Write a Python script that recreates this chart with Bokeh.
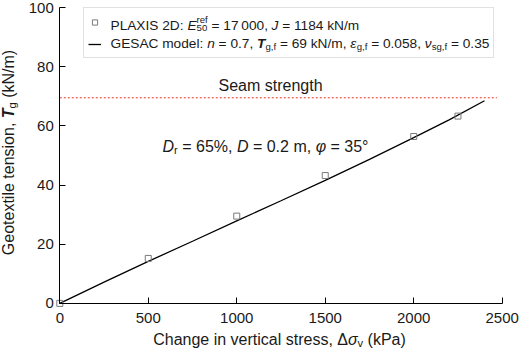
import math
from bokeh.plotting import figure
from bokeh.models import Range1d, Label, Legend, LegendItem, FixedTicker
from bokeh.embed import file_html
from bokeh.resources import INLINE

# PLAXIS 2D results
plaxis_stress = [0, 500, 1000, 1500, 2000, 2250]
plaxis_tension = [0, 15.2, 29.5, 43.2, 56.4, 63.3]

# GESAC model curve
gesac_stress = [0, 250, 500, 750, 1000, 1250, 1500, 1750, 2000, 2200, 2400]
gesac_tension = [0, 7.2, 14.2, 21.0, 27.9, 34.7, 41.6, 48.7, 56.0, 62.0, 68.5]

# Seam strength level
seam_stress = [0, 2470]
seam_tension = [69.5, 69.5]

x_ticks = [0, 500, 1000, 1500, 2000, 2500]
y_ticks = [0, 20, 40, 60, 80, 100]

FONT = "Liberation Sans"
INK = "#1a1a1a"

W, H = 520, 359
# plot area in canvas pixels: axes cross at (AX_LEFT, AX_BOTTOM)
AX_LEFT, AX_RIGHT, AX_TOP, AX_BOTTOM = 59.3, 501.7, 7.0, 302.9
X_MAX, Y_MAX = 2500, 100

kx = (AX_RIGHT - AX_LEFT) / X_MAX
ky = (AX_BOTTOM - AX_TOP) / Y_MAX
x_range = Range1d(-AX_LEFT / kx, X_MAX + (W - AX_RIGHT) / kx)
y_range = Range1d(-(H - AX_BOTTOM) / ky, Y_MAX + AX_TOP / ky)

# the frame fills the canvas; axes are pinned at the data origin
p = figure(width=W, height=H, output_backend="svg", toolbar_location=None,
           x_range=x_range, y_range=y_range, min_border=0)
p.outline_line_color = None
p.grid.visible = False
p.background_fill_color = "white"
p.border_fill_color = "white"

for ax, ticks, bounds in ((p.xaxis[0], x_ticks, (0, X_MAX)),
                          (p.yaxis[0], y_ticks, (0, Y_MAX))):
    ax.fixed_location = 0
    ax.bounds = bounds
    ax.ticker = FixedTicker(ticks=ticks)
    ax.minor_tick_line_color = None
    ax.major_tick_in = 6
    ax.major_tick_out = 0
    ax.axis_line_color = "black"
    ax.major_tick_line_color = "black"
    ax.major_label_text_font = FONT
    ax.major_label_text_font_size = "15px"
    ax.major_label_text_color = INK
p.xaxis.major_label_standoff = 10
p.yaxis.major_label_standoff = 6

WID = {' ': 278, '\u00a0': 278, '\u2009': 180, ',': 278, '.': 278, ':': 278,
       '=': 584, '%': 889, '/': 278, '(': 333, ')': 333, '°': 400, 'A': 667,
       'C': 722, 'D': 722, 'E': 667, 'G': 778, 'I': 278, 'J': 500, 'L': 556,
       'N': 722, 'P': 667, 'S': 667, 'T': 611, 'X': 667, 'a': 556, 'c': 500,
       'd': 556, 'e': 556, 'f': 278, 'g': 556, 'h': 556, 'i': 222, 'k': 500,
       'l': 222, 'm': 833, 'n': 556, 'o': 556, 'r': 333, 's': 500, 't': 278,
       'v': 500, 'x': 500, 'Δ': 668, 'σ': 600, 'ε': 460, 'ν': 500, 'φ': 650}


def tw(s, size):
    return sum(WID.get(c, 556) for c in s) / 1000 * size


def rich(px, py, runs, size, angle=0.0, align="left"):
    """Place styled text pieces (base / sub / sup / subsup) along a baseline.

    px, py: baseline start (or centre) in canvas pixels from the top-left.
    """
    items, adv = [], 0.0
    small = size * 0.7
    for text, style, role in runs:
        if role == "subsup":
            sub, sup = text
            items.append((sub, style, small, adv, -0.22 * size))
            items.append((sup, style, small, adv, 0.42 * size))
            adv += max(tw(sub, small), tw(sup, small))
        elif role == "sub":
            items.append((text, style, small, adv, -0.22 * size))
            adv += tw(text, small)
        else:
            items.append((text, style, size, adv, 0.0))
            adv += tw(text, size)
    start = -adv / 2 if align == "center" else 0.0
    ca, sa = math.cos(angle), math.sin(angle)
    lift = 0.36 * size  # baseline correction
    for text, style, sz, a, shift in items:
        a += start
        shift += lift
        p.add_layout(Label(x=px, y=H - py, x_units="screen", y_units="screen",
                           x_offset=a * ca - shift * sa,
                           y_offset=a * sa + shift * ca,
                           text=text.replace(" ", "\u00a0"), angle=angle,
                           text_font=FONT, text_font_size=f"{sz:.1f}px",
                           text_font_style=style, text_color=INK,
                           text_baseline="alphabetic", text_align="left"))


# marks
seam = p.line(seam_stress, seam_tension, line_color="#f2372f", line_width=1.1,
              line_dash="2 2")
gesac = p.line(gesac_stress, gesac_tension, line_color="black", line_width=1.3)
plaxis = p.scatter(plaxis_stress, plaxis_tension, marker="square", size=6,
                   line_color="#7a7a7a", fill_color=None, line_width=1)

# legend frame with glyph samples; its wording is set as rich text below
legend = Legend(items=[LegendItem(label=" ", renderers=[plaxis]),
                       LegendItem(label=" ", renderers=[gesac])],
                location=(83, H - 58), padding=4, spacing=3, label_height=19,
                glyph_width=13, glyph_height=14, label_standoff=10,
                label_width=378, border_line_color="#c4c4c4",
                border_line_width=1, background_fill_alpha=0.0, margin=0)
p.add_layout(legend)

rich(110, 29.5, [("PLAXIS 2D: ", "normal", "base"), ("E", "italic", "base"),
                 (("50", "ref"), "normal", "subsup"),
                 (" = 17\u2009000, ", "normal", "base"), ("J", "italic", "base"),
                 (" = 1184 kN/m", "normal", "base")], 13.7)
rich(110, 48, [("GESAC model: ", "normal", "base"), ("n", "italic", "base"),
               (" = 0.7, ", "normal", "base"), ("T", "bold italic", "base"),
               ("g,f", "normal", "sub"), (" = 69 kN/m, ", "normal", "base"),
               ("ε", "italic", "base"), ("g,f", "normal", "sub"),
               (" = 0.058, ", "normal", "base"), ("ν", "italic", "base"),
               ("sg,f", "normal", "sub"), (" = 0.35", "normal", "base")], 13.7)

# annotations
rich(270, 91, [("Seam strength", "normal", "base")], 16, align="center")
rich(162, 152, [("D", "italic", "base"), ("r", "normal", "sub"),
                (" = 65%, ", "normal", "base"), ("D", "italic", "base"),
                (" = 0.2 m, ", "normal", "base"), ("φ", "italic", "base"),
                (" = 35°", "normal", "base")], 16)

# axis titles
rich(279, 345, [("Change in vertical stress, Δ", "normal", "base"),
                ("σ", "italic", "base"), ("v", "normal", "sub"),
                (" (kPa)", "normal", "base")], 16, align="center")
rich(14, 152, [("Geotextile tension, ", "normal", "base"),
               ("T", "bold italic", "base"), ("g", "normal", "sub"),
               (" (kN/m)", "normal", "base")], 16, angle=math.pi / 2,
     align="center")

open("out.html", "w").write(file_html(p, INLINE))
